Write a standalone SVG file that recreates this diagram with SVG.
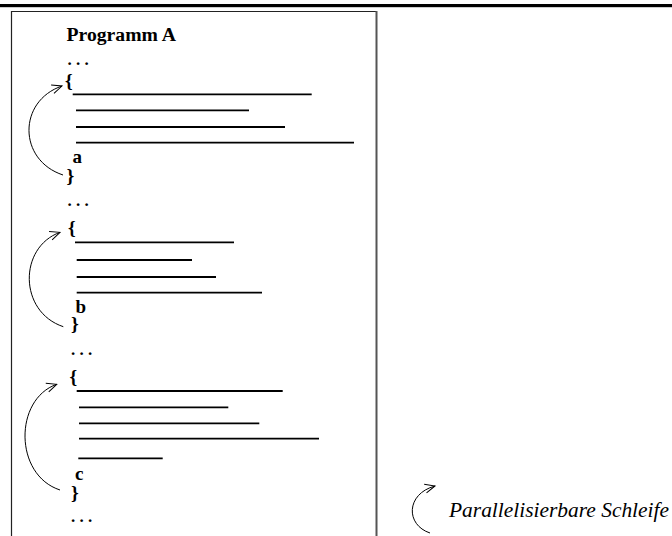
<svg xmlns="http://www.w3.org/2000/svg" width="672" height="536" viewBox="0 0 672 536">
  <style>
    text { font-family: "Liberation Serif", Tinos, "Times New Roman", "DejaVu Serif", serif; fill: #000; }
    .title { font-size: 19.7px; font-weight: bold; }
    .dots { font-size: 17px; font-weight: bold; }
    .brace { font-size: 19.5px; font-weight: bold; }
    .label { font-size: 19px; font-weight: bold; }
    .legend { font-size: 21.6px; font-style: italic; }
    .code { stroke: #000; stroke-width: 1.8; fill: none; }
    .loop { stroke: #000; stroke-width: 1; fill: none; marker-end: url(#open); }
  </style>
  <defs>
    <!-- open V arrowhead for the loop arcs -->
    <marker id="open" markerUnits="userSpaceOnUse" markerWidth="14" markerHeight="14" refX="0" refY="0" viewBox="-12 -7 14 14" orient="auto">
      <path d="M -10 -4.5 L 0 0 L -10 4.5" fill="none" stroke="#000" stroke-width="1"/>
    </marker>
  </defs>

  <rect id="topbar" x="0" y="4" width="672" height="3.2" fill="#000"/>

  <g id="program">
    <path d="M11.5 536 V11.5 H376.5" fill="none" stroke="#222" stroke-width="1.2"/>
    <line x1="376.5" y1="11" x2="376.5" y2="536" stroke="#555" stroke-width="2"/>
    <text class="title" x="66.5" y="41">Programm A</text>
    <text class="dots" x="67.5" y="65">. . .</text>
  </g>

  <g id="loop-a">
    <text class="brace" x="65" y="86.5">{</text>
    <line class="code" x1="72.7" y1="94.3" x2="311.7" y2="94.3"/>
    <line class="code" x1="76" y1="110.3" x2="249" y2="110.3"/>
    <line class="code" x1="76" y1="127" x2="285" y2="127"/>
    <line class="code" x1="76" y1="142.7" x2="354" y2="142.7"/>
    <text class="label" x="72.5" y="163.3">a</text>
    <text class="brace" x="66.5" y="182">}</text>
  </g>

  <text class="dots" x="67.5" y="206">. . .</text>

  <g id="loop-b">
    <text class="brace" x="68" y="234">{</text>
    <line class="code" x1="75" y1="242.3" x2="234" y2="242.3"/>
    <line class="code" x1="76.7" y1="260" x2="192" y2="260"/>
    <line class="code" x1="76.7" y1="277" x2="216" y2="277"/>
    <line class="code" x1="76.7" y1="292.7" x2="262" y2="292.7"/>
    <text class="label" x="75.5" y="313.3">b</text>
    <text class="brace" x="71" y="330">}</text>
  </g>

  <text class="dots" x="71" y="354.5">. . .</text>

  <g id="loop-c">
    <text class="brace" x="69.5" y="383">{</text>
    <line class="code" x1="76.7" y1="391" x2="282.7" y2="391"/>
    <line class="code" x1="79" y1="407.3" x2="228.3" y2="407.3"/>
    <line class="code" x1="79" y1="423.3" x2="259.3" y2="423.3"/>
    <line class="code" x1="79" y1="438.7" x2="319" y2="438.7"/>
    <line class="code" x1="78.3" y1="458.3" x2="162.7" y2="458.3"/>
    <text class="label" x="75" y="480">c</text>
    <text class="brace" x="71" y="499">}</text>
  </g>

  <text class="dots" x="71" y="521.5">. . .</text>

  <g id="legend">
    <text class="legend" x="449" y="517.3" textLength="220" lengthAdjust="spacingAndGlyphs">Parallelisierbare Schleife</text>
  </g>

  <g id="connectors">
    <path class="loop" d="M63 175 C17.8 160 17.8 101 62 86"/>
    <path class="loop" d="M63.3 326.7 C18.5 311.7 18.5 247.3 60 232.3"/>
    <path class="loop" d="M60 490 C13.9 475 13.9 399.3 56.7 384.3"/>
    <path class="loop" d="M430 533 C405.6 525 405.6 494 435 486"/>
  </g>
</svg>
